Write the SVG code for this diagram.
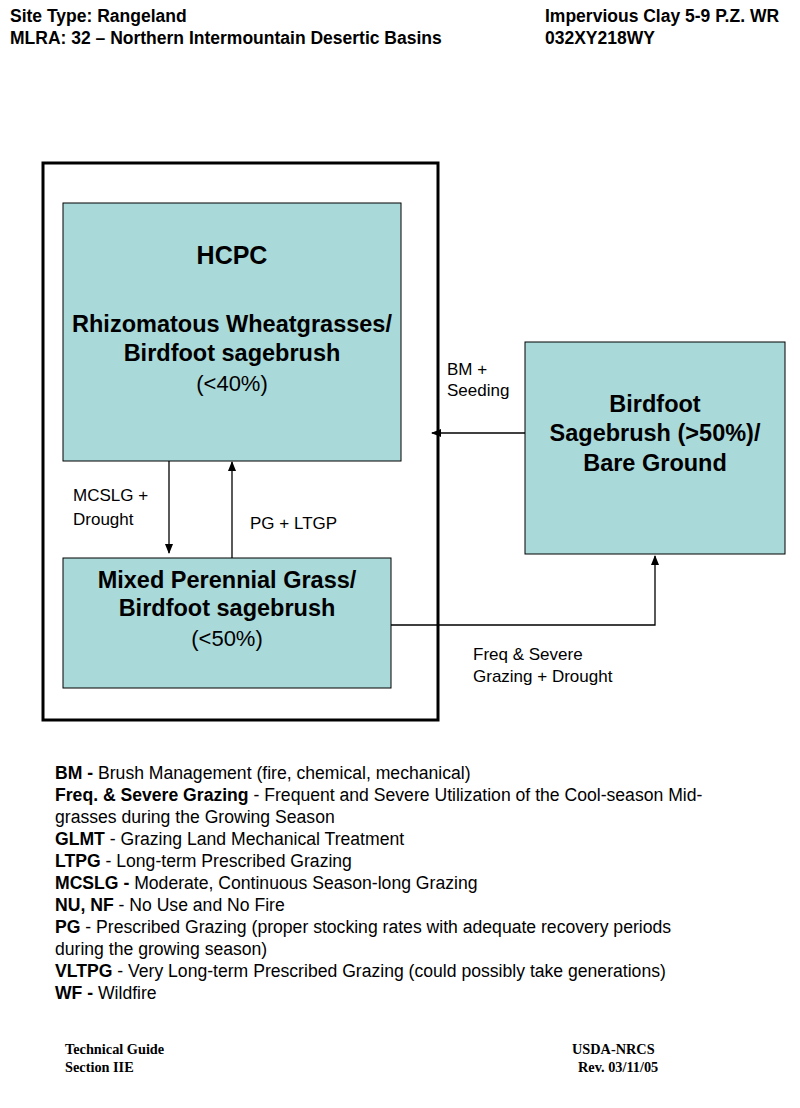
<svg xmlns="http://www.w3.org/2000/svg" width="800" height="1108" viewBox="0 0 800 1108">
<style>
text{font-family:"Liberation Sans",Arial,sans-serif;fill:#000}
.h{font-size:17.5px;font-weight:bold}
.box{fill:#a9d9d9;stroke:#000;stroke-width:1}
.t{font-size:23.5px;font-weight:bold;text-anchor:middle}
.n{font-size:22px;text-anchor:middle}
.l{font-size:17px}
.lg{font-size:17.6px}
.f{font-family:"Liberation Serif",serif;font-size:14.3px;font-weight:bold}
.c{stroke:#000;stroke-width:1.3;fill:none}
</style>
<defs><marker id="a" markerWidth="10" markerHeight="8" refX="9" refY="4" orient="auto" markerUnits="userSpaceOnUse"><path d="M0,0L10,4L0,8z" fill="#000"/></marker></defs>
<rect width="800" height="1108" fill="#fff"/>
<g id="header">
<text class="h" x="10" y="22">Site Type:  Rangeland</text>
<text class="h" x="10" y="44">MLRA: 32 – Northern Intermountain Desertic Basins</text>
<text class="h" x="545" y="22">Impervious Clay 5-9 P.Z. WR</text>
<text class="h" x="545" y="44">032XY218WY</text>
</g>
<rect id="outer" x="43" y="163" width="395" height="557" fill="none" stroke="#000" stroke-width="3"/>
<g id="hcpc"><rect class="box" x="63" y="203" width="338" height="258"/>
<text class="t" x="232" y="264" style="font-size:25px">HCPC</text>
<text class="t" x="232" y="332">Rhizomatous Wheatgrasses/</text>
<text class="t" x="232" y="361">Birdfoot sagebrush</text>
<text class="n" x="232" y="391">(&lt;40%)</text></g>
<g id="mixed"><rect class="box" x="63" y="558" width="328" height="130"/>
<text class="t" x="227" y="588">Mixed Perennial Grass/</text>
<text class="t" x="227" y="616">Birdfoot sagebrush</text>
<text class="n" x="227" y="646">(&lt;50%)</text></g>
<g id="birdfoot"><rect class="box" x="525" y="342" width="260" height="212"/>
<text class="t" x="655" y="412">Birdfoot</text>
<text class="t" x="655" y="441">Sagebrush (&gt;50%)/</text>
<text class="t" x="655" y="471">Bare Ground</text></g>
<g id="connectors">
<line class="c" x1="169" y1="461" x2="169" y2="553" marker-end="url(#a)"/>
<line class="c" x1="232" y1="558" x2="232" y2="462" marker-end="url(#a)"/>
<line class="c" x1="525" y1="433" x2="432" y2="433" marker-end="url(#a)"/>
<polyline class="c" points="391,625 655,625 655,556" marker-end="url(#a)"/>
<text class="l" x="73" y="501">MCSLG +</text><text class="l" x="73" y="525">Drought</text>
<text class="l" x="250" y="529">PG + LTGP</text>
<text class="l" x="447" y="375">BM +</text><text class="l" x="447" y="396">Seeding</text>
<text class="l" x="473" y="660">Freq &amp; Severe</text><text class="l" x="473" y="682">Grazing + Drought</text>
</g>
<g id="legend" class="lg">
<text x="55" y="779"><tspan font-weight="bold">BM - </tspan>Brush Management (fire, chemical, mechanical)</text>
<text x="55" y="801"><tspan font-weight="bold">Freq. &amp; Severe Grazing</tspan> - Frequent and Severe Utilization of the Cool-season Mid-</text>
<text x="55" y="823">grasses during the Growing Season</text>
<text x="55" y="845"><tspan font-weight="bold">GLMT</tspan> - Grazing Land Mechanical Treatment</text>
<text x="55" y="867"><tspan font-weight="bold">LTPG</tspan> - Long-term Prescribed Grazing</text>
<text x="55" y="889"><tspan font-weight="bold">MCSLG - </tspan>Moderate, Continuous Season-long Grazing</text>
<text x="55" y="911"><tspan font-weight="bold">NU, NF</tspan> - No Use and No Fire</text>
<text x="55" y="933"><tspan font-weight="bold">PG</tspan> - Prescribed Grazing (proper stocking rates with adequate recovery periods</text>
<text x="55" y="955">during the growing season)</text>
<text x="55" y="977"><tspan font-weight="bold">VLTPG</tspan> - Very Long-term Prescribed Grazing (could possibly take generations)</text>
<text x="55" y="999"><tspan font-weight="bold">WF - </tspan>Wildfire</text>
</g>
<g id="footer">
<text class="f" x="65" y="1054">Technical Guide</text>
<text class="f" x="65" y="1072">Section IIE</text>
<text class="f" x="572" y="1054">USDA-NRCS</text>
<text class="f" x="578" y="1072">Rev. 03/11/05</text>
</g>
</svg>
